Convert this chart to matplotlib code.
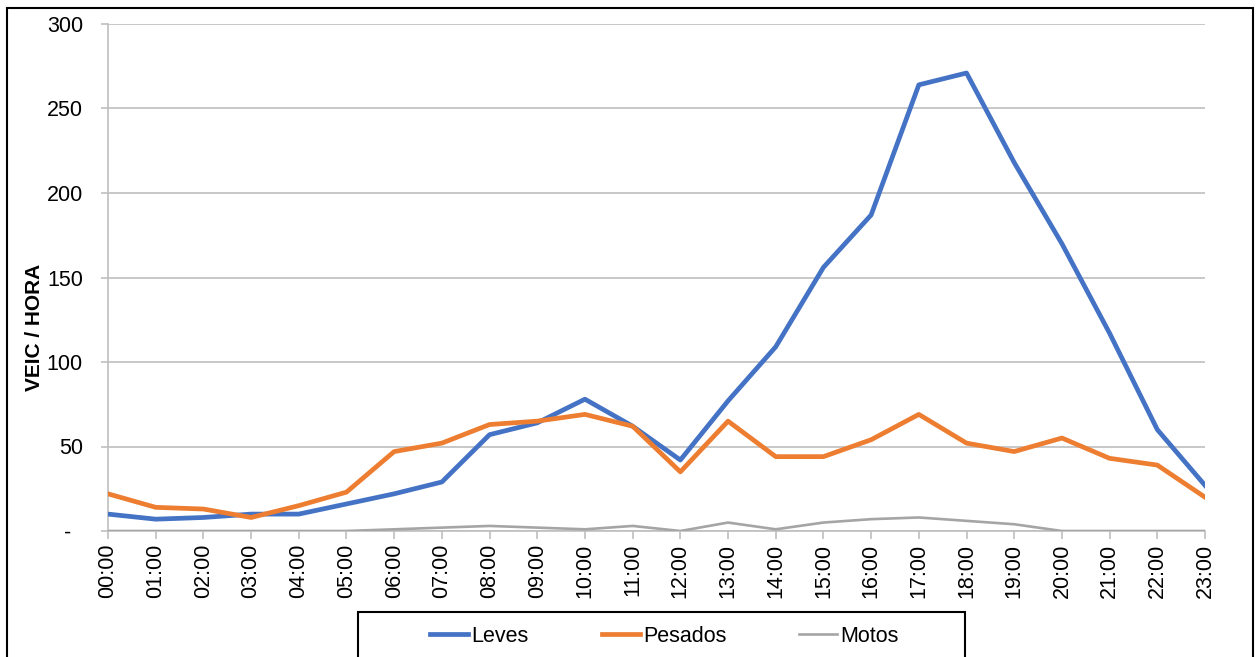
import matplotlib
matplotlib.use("Agg")
import matplotlib.pyplot as plt
from matplotlib.patches import Rectangle
from matplotlib.lines import Line2D

hours = [f"{h:02d}:00" for h in range(24)]
leves = [10, 7, 8, 10, 10, 16, 22, 29, 57, 64, 78, 62, 42, 77, 109, 156, 187, 264, 271, 218, 170, 117, 60, 27]
pesados = [22, 14, 13, 8, 15, 23, 47, 52, 63, 65, 69, 62, 35, 65, 44, 44, 54, 69, 52, 47, 55, 43, 39, 20]
motos = [0, 0, 0, 0, 0, 0, 1, 2, 3, 2, 1, 3, 0, 5, 1, 5, 7, 8, 6, 4, 0, 0, 0, 0]
yticks = [0, 50, 100, 150, 200, 250, 300]
ytick_labels = ["-  ", "50", "100", "150", "200", "250", "300"]

plt.rcParams['font.family'] = ['Liberation Sans', 'DejaVu Sans']

W, H = 1258, 657
fig = plt.figure(figsize=(W / 100, H / 100), dpi=100)
ax = fig.add_axes([108 / W, 1 - 531 / H, (1205 - 108) / W, (531 - 24) / H])

x = list(range(len(hours)))
c_lev, c_pes, c_mot = "#4472C4", "#ED7D31", "#A5A5A5"
ax.plot(x, motos, color=c_mot, lw=1.9, solid_joinstyle="round", zorder=3)
ax.plot(x, leves, color=c_lev, lw=3.4, solid_joinstyle="round", zorder=4)
ax.plot(x, pesados, color=c_pes, lw=3.4, solid_joinstyle="round", zorder=5)

ax.set_xlim(0, 23)
ax.set_ylim(0, 300)
ax.set_xticks(x)
ax.set_xticklabels(hours, rotation=90, fontsize=15.5)
ax.set_yticks(yticks)
ax.set_yticklabels(ytick_labels, fontsize=15.5)
ax.yaxis.grid(True, color="#BFBFBF", lw=1.2)
ax.set_axisbelow(True)
for s in ["top", "right"]:
    ax.spines[s].set_visible(False)
for s in ["left", "bottom"]:
    ax.spines[s].set_color("#BFBFBF")
    ax.spines[s].set_linewidth(1.2)
ax.tick_params(axis="x", length=6, color="#BFBFBF", width=1.2, pad=3)
ax.tick_params(axis="y", length=5, color="#BFBFBF", width=1.2, pad=13)

# y label (offset downward as in the reference)
fig.text(34.5 / W, 1 - 327 / H, "VEIC / HORA", rotation=90, ha="center", va="center",
         fontsize=15, fontweight="bold")

# figure border
fig.add_artist(Rectangle((7 / W, -0.05), (1253 - 7) / W, 1 - 8 / H + 0.05,
                         transform=fig.transFigure, fill=False, ec="black", lw=1.5))
# legend box
fig.add_artist(Rectangle((358 / W, -0.05), (965 - 358) / W, 1 - 612 / H + 0.05,
                         transform=fig.transFigure, fill=False, ec="black", lw=1.5))
handles = [Line2D([], [], color=c_lev, lw=3.4),
           Line2D([], [], color=c_pes, lw=3.4),
           Line2D([], [], color=c_mot, lw=1.9)]
fig.legend(handles, ["Leves", "Pesados", "Motos"], loc="center",
           bbox_to_anchor=(664.5 / W, 1 - 636 / H), ncol=3, frameon=False,
           fontsize=15.5, handlelength=1.77, handletextpad=0.14, columnspacing=3.4,
           borderpad=0, borderaxespad=0)

fig.savefig("out.png", dpi=100)
